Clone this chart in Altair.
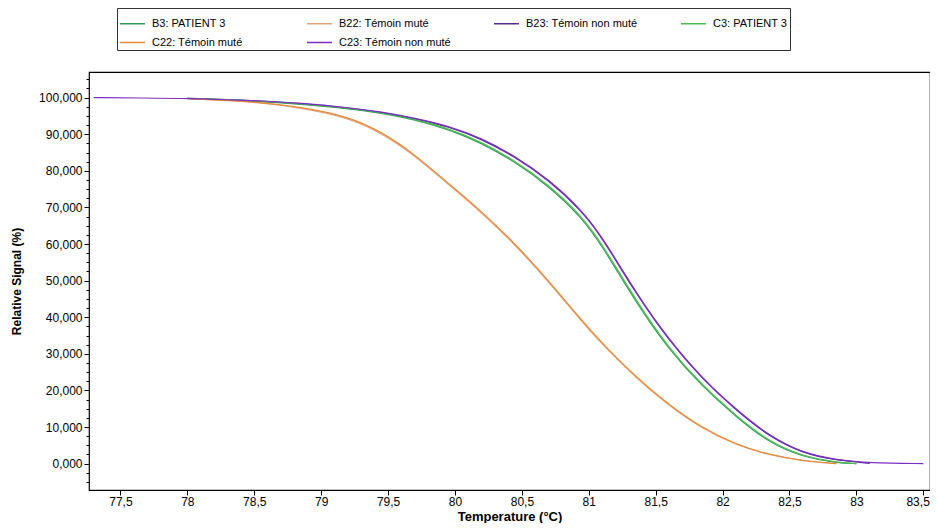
import altair as alt
import pandas as pd

# ---- data ----
series = ["B3: PATIENT 3", "B22: Témoin muté", "B23: Témoin non muté",
          "C3: PATIENT 3", "C22: Témoin muté", "C23: Témoin non muté"]
colors = ["#2f9e5a", "#e9a17a", "#5b2a92", "#4cbb52", "#e48c3c", "#7b2ec4"]

temp_b3 = [78.0, 78.5, 78.85, 79.2, 79.45, 79.7, 79.95, 80.2, 80.45, 80.7, 80.95,
           81.1, 81.35, 81.6, 81.85, 82.1, 82.35, 82.6, 82.85, 83.0]
sig_b3 = [99.8, 99.1, 98.2, 97.0, 95.8, 94.0, 91.4, 87.6, 82.4, 75.9, 67.2,
          59.5, 44.2, 31.0, 21.0, 12.8, 5.6, 1.8, 0.2, 0.0]

temp_c3 = [78.0, 78.5, 78.85, 79.2, 79.45, 79.7, 79.95, 80.2, 80.45, 80.7, 80.95,
           81.1, 81.35, 81.6, 81.85, 82.1, 82.35, 82.6, 82.85, 83.0]
sig_c3 = [99.8, 99.2, 98.3, 97.1, 95.9, 94.1, 91.6, 87.9, 82.7, 76.2, 67.6,
          60.0, 44.7, 31.4, 21.3, 13.1, 5.9, 2.0, 0.3, 0.0]

temp_b22 = [78.0, 78.5, 78.85, 79.2, 79.45, 79.7, 79.95, 80.2, 80.45, 80.7, 80.95,
            81.1, 81.35, 81.6, 81.85, 82.1, 82.35, 82.6, 82.85]
sig_b22 = [99.7, 98.9, 97.2, 94.6, 90.4, 84.2, 76.3, 68.6, 59.8, 49.7, 38.7,
           32.6, 23.5, 15.8, 9.5, 5.1, 2.3, 0.7, 0.0]

temp_c22 = [78.0, 78.5, 78.85, 79.2, 79.45, 79.7, 79.95, 80.2, 80.45, 80.7, 80.95,
            81.1, 81.35, 81.6, 81.85, 82.1, 82.35, 82.6, 82.85]
sig_c22 = [99.7, 99.0, 97.4, 94.9, 90.7, 84.5, 76.6, 68.9, 60.1, 50.0, 39.0,
           32.9, 23.7, 16.0, 9.7, 5.2, 2.4, 0.8, 0.0]

temp_b23 = [78.0, 78.5, 78.85, 79.2, 79.45, 79.7, 79.95, 80.2, 80.45, 80.7, 80.95,
            81.1, 81.35, 81.6, 81.85, 82.1, 82.35, 82.6, 82.85, 83.1]
sig_b23 = [99.8, 99.2, 98.4, 97.2, 96.0, 94.3, 92.1, 88.7, 83.8, 77.5, 69.0,
           61.8, 46.5, 33.5, 23.0, 14.6, 7.3, 2.8, 0.9, 0.1]

temp_c23 = [77.3, 77.65, 78.0, 78.5, 78.85, 79.2, 79.45, 79.7, 79.95, 80.2, 80.45,
            80.7, 80.95, 81.1, 81.35, 81.6, 81.85, 82.1, 82.35, 82.6, 82.85, 83.1, 83.5]
sig_c23 = [100.0, 99.9, 99.8, 99.2, 98.5, 97.3, 96.1, 94.4, 92.3, 88.9, 84.0,
           77.7, 69.2, 62.0, 46.8, 33.8, 23.2, 14.8, 7.5, 2.9, 1.0, 0.2, 0.0]

x_ticks = [77.5, 78, 78.5, 79, 79.5, 80, 80.5, 81, 81.5, 82, 82.5, 83, 83.5]
y_ticks = [0, 10, 20, 30, 40, 50, 60, 70, 80, 90, 100]
y_minor = [v * 2.5 for v in range(-2, 43)]

# ---- build table ----
temps = [temp_b3, temp_b22, temp_b23, temp_c3, temp_c22, temp_c23]
sigs = [sig_b3, sig_b22, sig_b23, sig_c3, sig_c22, sig_c23]
rows = []
for name, ts, ss in zip(series, temps, sigs):
    for t, s in zip(ts, ss):
        rows.append({"series": name, "temp": t, "signal": s})
df = pd.DataFrame(rows)

X_DOM = [77.265, 83.55]
Y_DOM = [-7.2, 107.0]

NARROW = "Liberation Sans Narrow, Arial Narrow, Liberation Sans"

x_enc = alt.X("temp:Q", scale=alt.Scale(domain=X_DOM, nice=False, zero=False),
              axis=alt.Axis(values=x_ticks, title="Temperature (°C)",
                            labelExpr="replace(datum.value + '', '.', ',')",
                            labelFont=NARROW, labelFontSize=12, labelColor="#000",
                            titleFont=NARROW, titleFontSize=13, titleFontWeight="bold",
                            titleColor="#000", titleBaseline="bottom", titleY=33,
                            labelPadding=1, labelFlush=8, labelFlushOffset=6,
                            tickSize=5, tickColor="#000", domain=False, grid=False))

lines = alt.Chart(df).mark_line(strokeWidth=1.2, interpolate="basis").encode(
    x=x_enc,
    y=alt.Y("signal:Q", scale=alt.Scale(domain=Y_DOM, nice=False, zero=False),
            axis=alt.Axis(values=y_ticks, title="Relative Signal (%)", orient="left",
                          labelExpr="replace(format(datum.value, '.3f'), '.', ',')",
                          labelFont="Liberation Sans", labelFontSize=12, labelColor="#000",
                          titleFont="Liberation Sans", titleFontSize=12,
                          titleFontWeight="bold", titleColor="#000", titlePadding=15,
                          tickSize=5, tickColor="#000", labelPadding=2,
                          domain=False, grid=False)),
    color=alt.Color("series:N", sort=series,
                    scale=alt.Scale(domain=series, range=colors),
                    legend=alt.Legend(title=None, orient="none", legendX=28, legendY=-64,
                                      direction="horizontal",
                                      columns=4, gridAlign="all", columnPadding=40,
                                      rowPadding=0, padding=2,
                                      symbolType="stroke", symbolSize=625,
                                      symbolStrokeWidth=1.5,
                                      labelFont="Liberation Sans", labelFontSize=11,
                                      labelColor="#000", labelOffset=6,
                                      strokeColor="#333", fillColor="#fff")),
    order=alt.Order("temp:Q"),
)

minor = alt.Chart(df).mark_point(opacity=0).encode(
    x=alt.X("temp:Q", scale=alt.Scale(domain=X_DOM, nice=False, zero=False)),
    y=alt.Y("signal:Q", scale=alt.Scale(domain=Y_DOM, nice=False, zero=False),
            axis=alt.Axis(values=y_minor, orient="left", labels=False, title=None,
                          tickSize=3, tickColor="#000", domain=False, grid=False)),
)

chart = alt.layer(lines, minor).resolve_axis(y="independent").properties(
    width=841, height=418,
    autosize=alt.AutoSizeParams(type="none"),
    padding={"left": 81, "top": 64, "right": 0, "bottom": 33},
    background="white",
).configure_view(stroke="#000", strokeWidth=1.2)

chart.save("out.html", embed_options={"renderer": "svg", "actions": False})
